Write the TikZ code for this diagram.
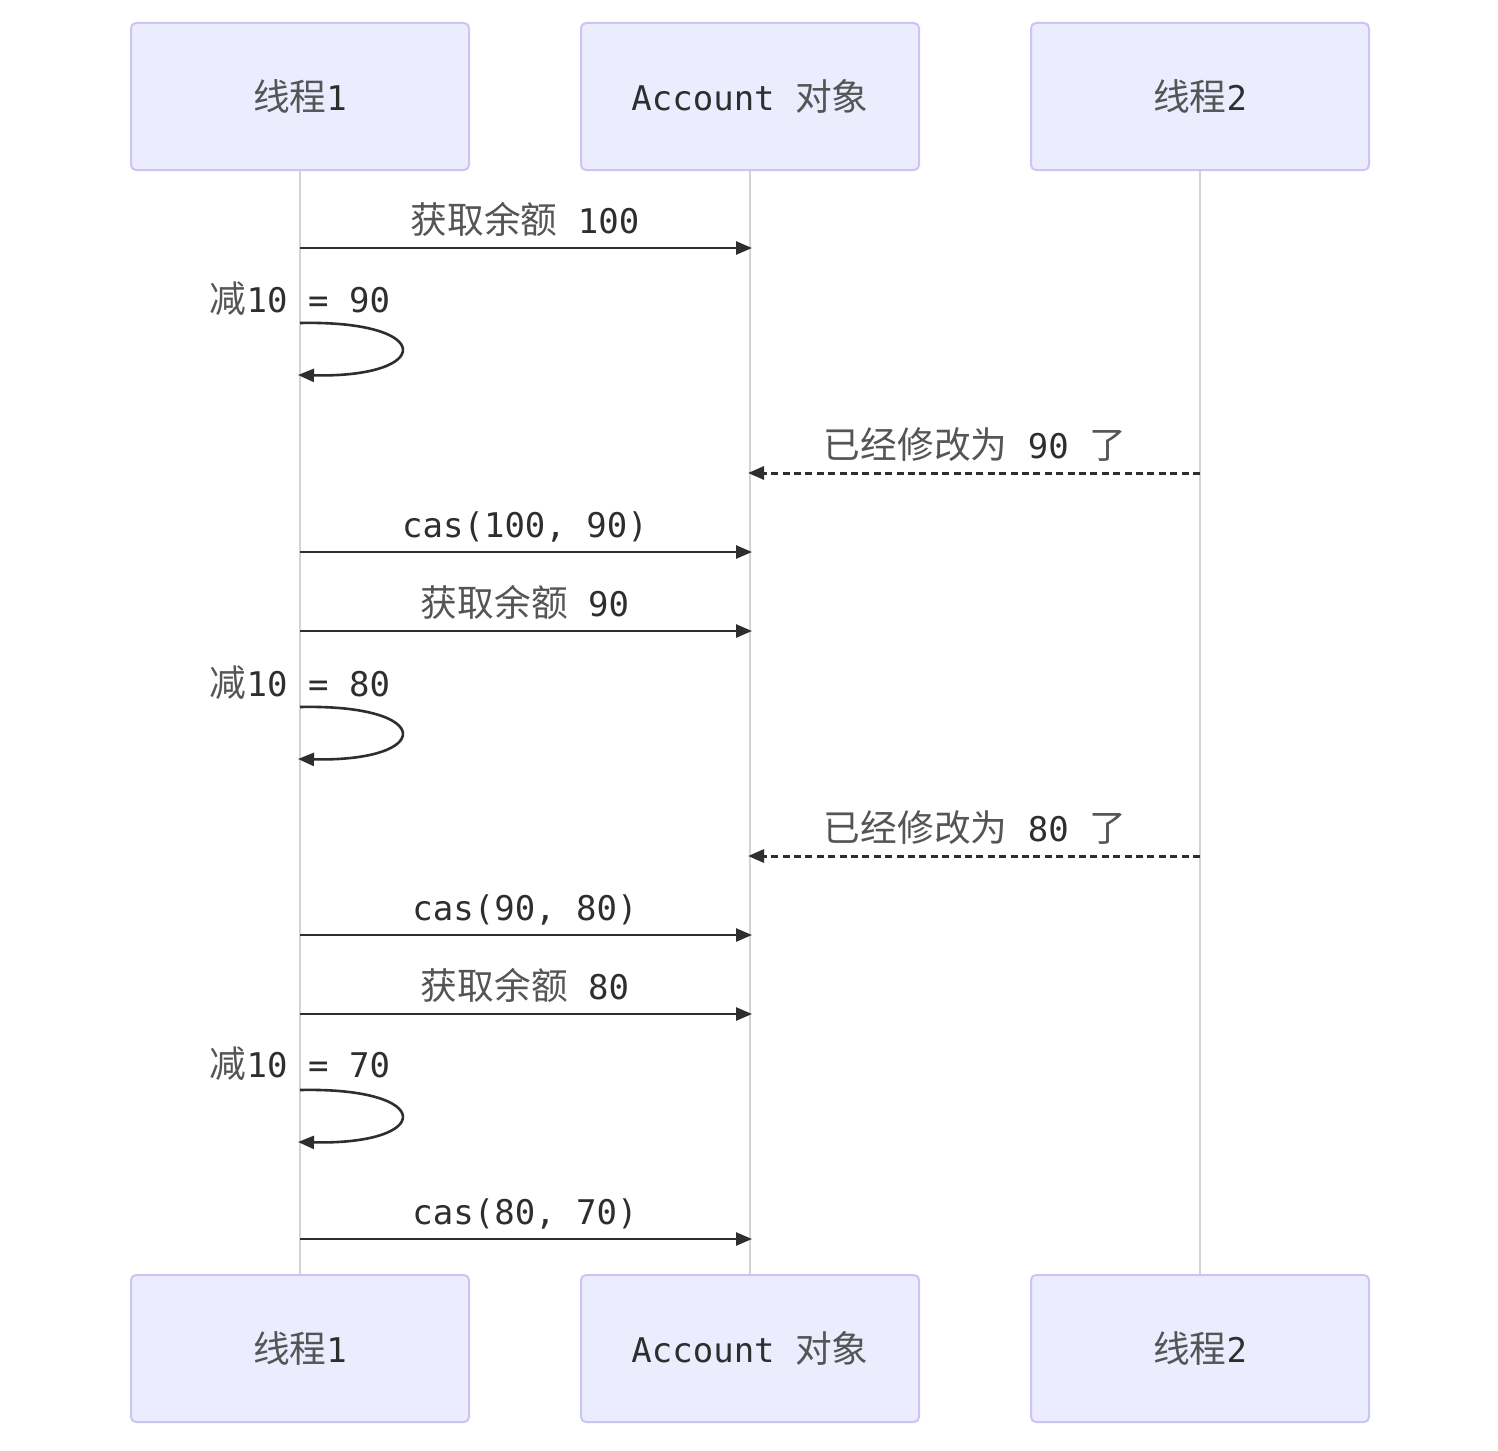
\documentclass[tikz,border=0pt]{standalone}
\usepackage{fontspec}
\setmainfont{DejaVu Sans Mono}
\newfontfamily\cjk{Noto Sans CJK SC}[Scale=1.08]
\usetikzlibrary{arrows.meta}
\definecolor{actorfill}{HTML}{ECECFF}
\definecolor{actorline}{HTML}{CCC4F2}
\definecolor{ink}{HTML}{2E2E2E}
\definecolor{hanink}{HTML}{555555}
\definecolor{lifeline}{HTML}{D3D3D3}
\newcommand{\hanzi}[1]{{\cjk\color{hanink}#1}}

\begin{document}
\begin{tikzpicture}[x=0.5pt,y=-0.5pt,
  actor/.style={draw=actorline, fill=actorfill, line width=1pt, rounded corners=2.5pt,
    minimum width=169pt, minimum height=73.5pt, text=ink,
    font=\fontsize{17}{20}\selectfont, inner sep=0pt},
  life/.style={draw=lifeline, line width=0.9pt},
  msg/.style={draw=ink, line width=1.3pt, -{Triangle[length=8pt,width=6.5pt]}},
  reply/.style={msg, dash pattern=on 3.5pt off 2.2pt, line width=1.5pt},
  lbl/.style={text=ink, font=\fontsize{17}{20}\selectfont, inner sep=0pt, anchor=base}
]
\useasboundingbox (0,0) rectangle (1498,1450);
\fill[white] (0,0) rectangle (1498,1450);

% lifelines
\coordinate (l1top) at (300,170);  \coordinate (l1bot) at (300,1275);
\coordinate (l2top) at (750,170);  \coordinate (l2bot) at (750,1275);
\coordinate (l3top) at (1200,170); \coordinate (l3bot) at (1200,1275);
\draw[life] (l1top) -- (l1bot);
\draw[life] (l2top) -- (l2bot);
\draw[life] (l3top) -- (l3bot);

% participants, top and bottom
\node[actor] (t1top) at (300,96.5)  {\hanzi{线程}1};
\node[actor] (acctop) at (750,96.5) {Account \hanzi{对象}};
\node[actor] (t2top) at (1200,96.5) {\hanzi{线程}2};
\node[actor] (t1bot) at (300,1348.5)  {\hanzi{线程}1};
\node[actor] (accbot) at (750,1348.5) {Account \hanzi{对象}};
\node[actor] (t2bot) at (1200,1348.5) {\hanzi{线程}2};

% message end points on the lifelines
\foreach \n/\y in {a/248, d/552, e/631, h/935, i/1014, k/1239} {
  \coordinate (t1\n) at (300,\y);
  \coordinate (ac\n) at (752,\y);
}
\foreach \n/\y in {c/473, g/856} {
  \coordinate (t2\n) at (1200,\y);
  \coordinate (ac\n) at (748,\y);
}
\foreach \n/\y in {b/323, f/707, j/1090} {
  \coordinate (s\n) at (300,\y);
  \coordinate (r\n) at (298,\y+52);
}

% messages
\draw[msg] (t1a) -- (aca);
\node[lbl] (la) at (525,233) {\hanzi{获取余额} 100};

\draw[msg] (sb) .. controls ++(136,-3) and ++(136,3) .. (rb);
\node[lbl] (lb) at (300,312) {\hanzi{减}10 = 90};

\draw[reply] (t2c) -- (acc);
\node[lbl] (lc) at (975,458) {\hanzi{已经修改为} 90 \hanzi{了}};

\draw[msg] (t1d) -- (acd);
\node[lbl] (ld) at (525,537) {cas(100, 90)};

\draw[msg] (t1e) -- (ace);
\node[lbl] (le) at (525,616) {\hanzi{获取余额} 90};

\draw[msg] (sf) .. controls ++(136,-3) and ++(136,3) .. (rf);
\node[lbl] (lf) at (300,696) {\hanzi{减}10 = 80};

\draw[reply] (t2g) -- (acg);
\node[lbl] (lg) at (975,841) {\hanzi{已经修改为} 80 \hanzi{了}};

\draw[msg] (t1h) -- (ach);
\node[lbl] (lh) at (525,920) {cas(90, 80)};

\draw[msg] (t1i) -- (aci);
\node[lbl] (li) at (525,999) {\hanzi{获取余额} 80};

\draw[msg] (sj) .. controls ++(136,-3) and ++(136,3) .. (rj);
\node[lbl] (lj) at (300,1077) {\hanzi{减}10 = 70};

\draw[msg] (t1k) -- (ack);
\node[lbl] (lk) at (525,1224) {cas(80, 70)};
\end{tikzpicture}
\end{document}
